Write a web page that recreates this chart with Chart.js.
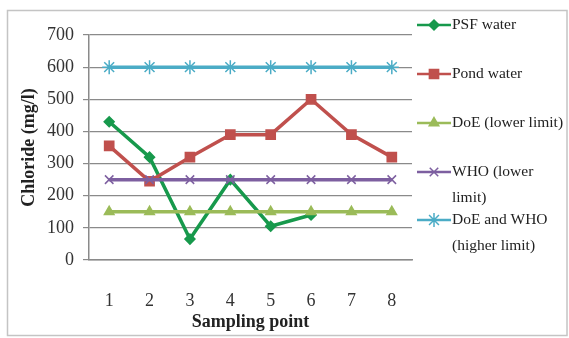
<!DOCTYPE html>
<html>
<head>
<meta charset="utf-8">
<script src="https://cdn.jsdelivr.net/npm/chart.js@4/dist/chart.umd.min.js"></script>
<style>
  html, body { margin: 0; padding: 0; background: #ffffff; }
  #wrap { width: 569px; height: 338px; position: relative; }
</style>
</head>
<body>
<div id="wrap"><canvas id="c" width="569" height="338"></canvas></div>
<script>
// Sampling points along the x axis
const samplingPoints = ['1', '2', '3', '4', '5', '6', '7', '8'];

// Chloride concentrations (mg/l)
const psfWater  = [430, 320, 65, 250, 105, 140, null, null];
const pondWater = [355, 245, 320, 390, 390, 500, 390, 320];
const doeLower  = [150, 150, 150, 150, 150, 150, 150, 150];
const whoLower  = [250, 250, 250, 250, 250, 250, 250, 250];
const upperLimit = [600, 600, 600, 600, 600, 600, 600, 600];

// Legend text, one entry per line
const seriesNames = [
  ['PSF water'],
  ['Pond water'],
  ['DoE (lower limit)'],
  ['WHO (lower', 'limit)'],
  ['DoE and WHO', '(higher limit)']
];

const yTicks = [0, 100, 200, 300, 400, 500, 600, 700];

const SERIF = '"Liberation Serif", "Times New Roman", serif';

function series(name, data, color, style, radius, order) {
  return {
    label: name.join(' '),
    legendLines: name,
    data: data,
    borderColor: color,
    backgroundColor: color,
    pointBackgroundColor: color,
    pointBorderColor: color,
    borderWidth: 3.5,
    pointStyle: style,
    pointRadius: radius,
    pointBorderWidth: 1.5,
    tension: 0,
    order: order
  };
}

// Frame around the whole figure
const framePlugin = {
  id: 'frame',
  beforeDraw(chart) {
    const ctx = chart.ctx;
    ctx.save();
    ctx.fillStyle = '#ffffff';
    ctx.fillRect(0, 0, chart.width, chart.height);
    ctx.strokeStyle = '#c4c4c4';
    ctx.lineWidth = 1.5;
    ctx.strokeRect(7.5, 10.5, 559.5, 325);
    ctx.restore();
  }
};

function drawMarker(ctx, style, r, x, y) {
  Chart.helpers.drawPoint(ctx, { pointStyle: style, radius: r, borderWidth: 1.5, rotation: 0 }, x, y);
}

// Legend on the right, with wrapped entries
const sideLegend = {
  id: 'sideLegend',
  afterDraw(chart) {
    const ctx = chart.ctx;
    const rows = [25, 74, 123, 172, 220];
    const lineGap = 26;
    ctx.save();
    chart.data.datasets.forEach((ds, i) => {
      const y = rows[i];
      ctx.strokeStyle = ds.borderColor;
      ctx.lineWidth = 2.5;
      ctx.beginPath();
      ctx.moveTo(417, y);
      ctx.lineTo(451, y);
      ctx.stroke();
      ctx.fillStyle = ds.borderColor;
      ctx.strokeStyle = ds.borderColor;
      ctx.lineWidth = 1.5;
      drawMarker(ctx, ds.pointStyle, ds.pointRadius, 434, y);
      ctx.fillStyle = '#222222';
      ctx.font = '15.5px ' + SERIF;
      ctx.textAlign = 'left';
      ctx.textBaseline = 'middle';
      ds.legendLines.forEach((t, k) => ctx.fillText(t, 452, y + k * lineGap));
    });
    ctx.restore();
  }
};

const chart = new Chart(document.getElementById('c'), {
  type: 'line',
  data: {
    labels: samplingPoints,
    datasets: [
      series(seriesNames[0], psfWater,  '#17994c', 'rectRot', 5, 5),
      series(seriesNames[1], pondWater, '#c0504d', 'rect', 6.5, 4),
      series(seriesNames[2], doeLower,  '#9bbb59', 'triangle', 5.5, 3),
      series(seriesNames[3], whoLower,  '#7d5fa0', 'crossRot', 6, 2),
      series(seriesNames[4], upperLimit, '#4bacc6', 'star', 7, 1)
    ]
  },
  options: {
    responsive: false,
    animation: false,
    devicePixelRatio: 1,
    layout: { padding: { left: 19, top: 35, right: 157, bottom: 5 } },
    plugins: {
      legend: { display: false },
      tooltip: { enabled: false }
    },
    scales: {
      x: {
        offset: true,
        grid: { display: false },
        border: { display: true, color: '#8a8a8a', width: 1.5 },
        ticks: {
          padding: 22,
          color: '#333333',
          font: { family: SERIF, size: 18 }
        },
        title: {
          display: true,
          text: 'Sampling point',
          color: '#222222',
          padding: { top: 0, bottom: 0 },
          font: { family: SERIF, size: 18, weight: 'bold' }
        },
        afterFit(scale) { scale.height = 73; }
      },
      y: {
        min: 0,
        max: 700,
        afterBuildTicks(scale) { scale.ticks = yTicks.map(v => ({ value: v })); },
        grid: { color: '#8a8a8a', lineWidth: 1.2, tickLength: 6 },
        border: { display: true, color: '#8a8a8a', width: 1.5 },
        ticks: {
          padding: 9,
          color: '#333333',
          font: { family: SERIF, size: 18 }
        },
        title: {
          display: true,
          text: 'Chloride (mg/l)',
          color: '#222222',
          padding: { top: 0, bottom: 4 },
          font: { family: SERIF, size: 18, weight: 'bold' }
        },
        afterFit(scale) { scale.width = 70; }
      }
    }
  },
  plugins: [framePlugin, sideLegend]
});
</script>
</body>
</html>
